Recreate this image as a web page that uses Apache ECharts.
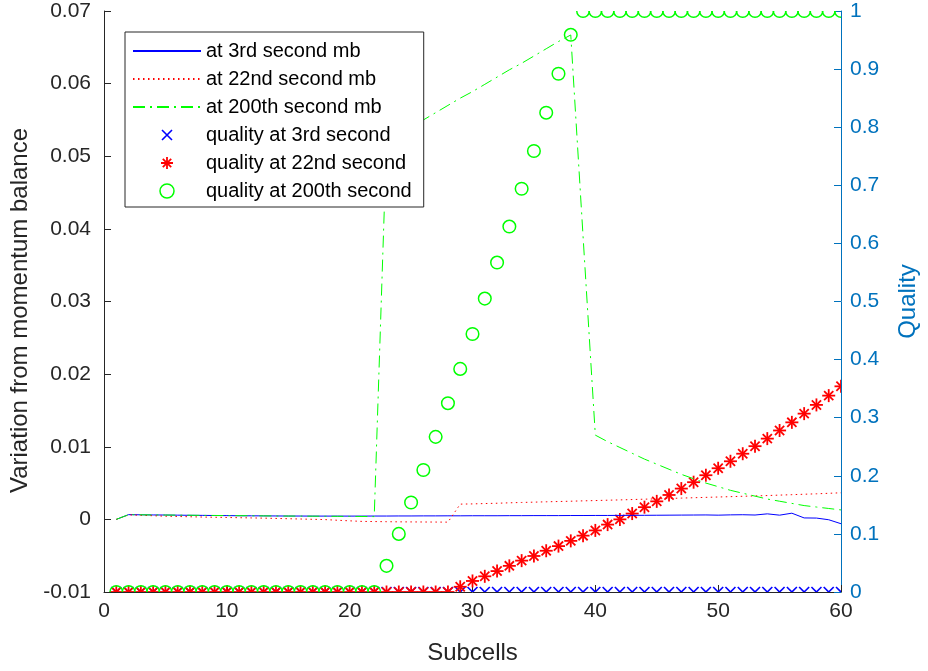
<!DOCTYPE html>
<html>
<head>
<meta charset="utf-8">
<script src="https://cdn.jsdelivr.net/npm/echarts@6/dist/echarts.min.js"></script>
<style>
  html, body { margin: 0; padding: 0; background: #ffffff; }
  #chart { width: 928px; height: 671px; }
</style>
</head>
<body>
<div id="chart"></div>
<script>
// Subcell index along the channel
const subcells = [
  1, 2, 3, 4, 5, 6, 7, 8, 9, 10, 11, 12, 13, 14, 15, 16, 17, 18, 19, 20,
  21, 22, 23, 24, 25, 26, 27, 28, 29, 30, 31, 32, 33, 34, 35, 36, 37, 38, 39, 40,
  41, 42, 43, 44, 45, 46, 47, 48, 49, 50, 51, 52, 53, 54, 55, 56, 57, 58, 59, 60
];

// Variation from the momentum balance (left axis)
const mb3rd = [
  0, 0.00065, 0.00063, 0.00061, 0.0006, 0.00058, 0.00056, 0.00055, 0.00053, 0.00052,
  0.0005, 0.00049, 0.00048, 0.00047, 0.00046, 0.00046, 0.00045, 0.00045, 0.00045, 0.00045,
  0.00045, 0.00046, 0.00046, 0.00047, 0.00047, 0.00048, 0.00048, 0.00049, 0.00049, 0.0005,
  0.0005, 0.0005, 0.00051, 0.00051, 0.00052, 0.00052, 0.00052, 0.00053, 0.00053, 0.00054,
  0.00054, 0.00055, 0.00055, 0.00056, 0.00057, 0.00058, 0.00059, 0.0006, 0.00061, 0.00058,
  0.00062, 0.00064, 0.0006, 0.00076, 0.00058, 0.00085, 0.0002, 0.00018, -0.00005, -0.0006
];
const mb22nd = [
  0, 0.00062, 0.00056, 0.0005, 0.00044, 0.0004, 0.00036, 0.00032, 0.00029, 0.00026,
  0.00023, 0.0002, 0.00017, 0.00013, 0.00009, 0.00005, 0.00001, -0.00003, -0.00012, -0.0002,
  -0.00028, -0.0003, -0.00032, -0.00034, -0.00035, -0.00036, -0.00037, -0.00038, 0.0021, 0.00213,
  0.00218, 0.00222, 0.00228, 0.00233, 0.00237, 0.00242, 0.00246, 0.0025, 0.00255, 0.00259,
  0.00264, 0.00268, 0.00273, 0.00278, 0.00283, 0.00288, 0.00293, 0.00298, 0.00303, 0.00308,
  0.00313, 0.00318, 0.00323, 0.00328, 0.00334, 0.0034, 0.00346, 0.00352, 0.00359, 0.00366
];
const mb200th = [
  0, 0.00065, 0.00063, 0.00061, 0.0006, 0.00058, 0.00057, 0.00055, 0.00054, 0.00052,
  0.00051, 0.0005, 0.00048, 0.00047, 0.00046, 0.00045, 0.00044, 0.00043, 0.00042, 0.00041,
  0.0004, 0.00038, 0.0521, 0.0531, 0.054, 0.055, 0.056, 0.057, 0.058, 0.0589,
  0.0599, 0.0609, 0.0619, 0.0628, 0.0638, 0.0648, 0.0658, 0.0667, 0.039, 0.0116,
  0.0107, 0.0099, 0.0091, 0.0083, 0.0076, 0.0069, 0.0062, 0.0056, 0.005, 0.0045,
  0.004, 0.0036, 0.0032, 0.0028, 0.0025, 0.0022, 0.0019, 0.0017, 0.0015, 0.0013
];

// Quality (right axis)
const quality3rd = [
  0, 0, 0, 0, 0, 0, 0, 0, 0, 0, 0, 0, 0, 0, 0, 0, 0, 0, 0, 0,
  0, 0, 0, 0, 0, 0, 0, 0, 0, 0, 0, 0, 0, 0, 0, 0, 0, 0, 0, 0,
  0, 0, 0, 0, 0, 0, 0, 0, 0, 0, 0, 0, 0, 0, 0, 0, 0, 0, 0, 0
];
const quality22nd = [
  0, 0, 0, 0, 0, 0, 0, 0, 0, 0, 0, 0, 0, 0, 0, 0, 0, 0, 0, 0,
  0, 0, 0, 0, 0, 0, 0, 0, 0.009, 0.019, 0.027, 0.036, 0.045, 0.054, 0.062, 0.071, 0.079, 0.088,
  0.097, 0.106, 0.116, 0.125, 0.135, 0.146, 0.156, 0.167, 0.178, 0.189, 0.201, 0.213,
  0.225, 0.238, 0.251, 0.264, 0.278, 0.292, 0.307, 0.322, 0.338, 0.354
];
const quality200th = [
  0, 0, 0, 0, 0, 0, 0, 0, 0, 0, 0, 0, 0, 0, 0, 0, 0, 0, 0, 0,
  0, 0, 0.045, 0.1, 0.154, 0.21, 0.267, 0.325, 0.384, 0.444,
  0.505, 0.567, 0.629, 0.694, 0.759, 0.825, 0.892, 0.959, 1, 1,
  1, 1, 1, 1, 1, 1, 1, 1, 1, 1, 1, 1, 1, 1, 1, 1, 1, 1, 1, 1
];

const FONT = "'Liberation Sans', Arial, Helvetica, sans-serif";
const AXIS_DARK = '#262626';
const AXIS_BLUE = '#0072BD';

function pairs(values) {
  return subcells.map((x, i) => [x, values[i]]);
}

function lineSeries(name, values, color, dash) {
  return {
    name,
    type: 'line',
    yAxisIndex: 0,
    data: pairs(values),
    symbol: 'none',
    showSymbol: false,
    clip: true,
    lineStyle: { color, width: 1, type: dash },
    itemStyle: { color },
    emphasis: { disabled: true }
  };
}

// Marker glyphs drawn around a screen point
function markerShape(kind, cx, cy, color) {
  if (kind === 'circle') {
    return { type: 'circle', shape: { cx, cy, r: 6.3 },
      style: { fill: 'none', stroke: color, lineWidth: 1.5 } };
  }
  const style = { fill: 'none', stroke: color, lineWidth: kind === 'star' ? 1.8 : 1.6 };
  const seg = (x1, y1, x2, y2) => ({ type: 'line', shape: { x1, y1, x2, y2 }, style });
  if (kind === 'cross') {
    const h = 5;
    return { type: 'group', children: [
      seg(cx - h, cy - h, cx + h, cy + h),
      seg(cx + h, cy - h, cx - h, cy + h)
    ] };
  }
  const a = 6.5, d = 4.6;
  return { type: 'group', children: [
    seg(cx - a, cy, cx + a, cy),
    seg(cx, cy - a, cx, cy + a),
    seg(cx - d, cy - d, cx + d, cy + d),
    seg(cx + d, cy - d, cx - d, cy + d)
  ] };
}

function markerSeries(name, values, kind, color) {
  return {
    name,
    type: 'custom',
    yAxisIndex: 1,
    clip: true,
    data: pairs(values),
    encode: { x: 0, y: 1 },
    itemStyle: { color },
    renderItem(params, api) {
      const p = api.coord([api.value(0), api.value(1)]);
      return markerShape(kind, p[0], p[1], color);
    }
  };
}

const crossIcon = 'path://M-7,-7L-7,-7M7,7L7,7M-5,-5L5,5M5,-5L-5,5';
const starIcon = 'path://M-7,-7L-7,-7M7,7L7,7M-6,0L6,0M0,-6L0,6M-4.2,-4.2L4.2,4.2M4.2,-4.2L-4.2,4.2';

const chart = echarts.init(document.getElementById('chart'), null, { renderer: 'canvas' });

chart.setOption({
  animation: false,
  backgroundColor: '#ffffff',
  textStyle: { fontFamily: FONT },
  grid: { left: 104, right: 87, top: 11, bottom: 79, containLabel: false },
  legend: {
    orient: 'vertical',
    left: 125,
    top: 32,
    itemWidth: 68,
    itemHeight: 14,
    itemGap: 8,
    padding: [9, 12, 6, 7],
    backgroundColor: '#ffffff',
    borderColor: AXIS_DARK,
    borderWidth: 1,
    borderRadius: 0,
    symbolKeepAspect: true,
    selectedMode: false,
    textStyle: { fontSize: 20, color: '#000000', fontFamily: FONT },
    data: [
      { name: 'at 3rd second mb', itemStyle: { opacity: 0 } },
      { name: 'at 22nd second mb', itemStyle: { opacity: 0 } },
      { name: 'at 200th second mb', itemStyle: { opacity: 0 } },
      { name: 'quality at 3rd second', icon: crossIcon,
        itemStyle: { color: 'none', borderColor: '#0000ff', borderWidth: 1.6 } },
      { name: 'quality at 22nd second', icon: starIcon,
        itemStyle: { color: 'none', borderColor: '#ff0000', borderWidth: 1.8 } },
      { name: 'quality at 200th second', icon: 'circle',
        itemStyle: { color: 'none', borderColor: '#00ff00', borderWidth: 1.5 } }
    ]
  },
  xAxis: {
    type: 'value',
    min: 0,
    max: 60,
    interval: 10,
    name: 'Subcells',
    nameLocation: 'middle',
    nameGap: 49,
    nameTextStyle: { fontSize: 24, color: AXIS_DARK, fontFamily: FONT },
    axisLine: { onZero: false, lineStyle: { color: AXIS_DARK, width: 1 } },
    axisTick: { inside: true, length: 7, lineStyle: { color: AXIS_DARK } },
    axisLabel: { fontSize: 21, color: AXIS_DARK, margin: 9, fontFamily: FONT },
    splitLine: { show: false }
  },
  yAxis: [
    {
      type: 'value',
      position: 'left',
      min: -0.01,
      max: 0.07,
      interval: 0.01,
      name: 'Variation from momentum balance',
      nameLocation: 'middle',
      nameGap: 70,
      nameTextStyle: { fontSize: 24, color: AXIS_DARK, fontFamily: FONT, padding: [0, 18, 0, 0] },
      axisLine: { show: true, onZero: false, lineStyle: { color: AXIS_DARK, width: 1 } },
      axisTick: { show: true, inside: true, length: 7, lineStyle: { color: AXIS_DARK } },
      axisLabel: {
        fontSize: 21, color: AXIS_DARK, margin: 13, fontFamily: FONT,
        formatter: v => (Math.abs(v) < 1e-9 ? '0' : v.toFixed(2))
      },
      splitLine: { show: false }
    },
    {
      type: 'value',
      position: 'right',
      min: 0,
      max: 1,
      interval: 0.1,
      name: 'Quality',
      nameLocation: 'middle',
      nameGap: 55,
      nameTextStyle: { fontSize: 24, color: AXIS_BLUE, fontFamily: FONT },
      axisLine: { show: true, onZero: false, lineStyle: { color: AXIS_BLUE, width: 1 } },
      axisTick: { show: true, inside: true, length: 7, lineStyle: { color: AXIS_BLUE } },
      axisLabel: {
        fontSize: 21, color: AXIS_BLUE, margin: 9, fontFamily: FONT,
        formatter: v => (Math.abs(v) < 1e-9 ? '0' : Math.abs(v - 1) < 1e-9 ? '1' : v.toFixed(1))
      },
      splitLine: { show: false }
    }
  ],
  series: [
    lineSeries('at 3rd second mb', mb3rd, '#0000ff', 'solid'),
    lineSeries('at 22nd second mb', mb22nd, '#ff0000', [1.5, 3.5]),
    lineSeries('at 200th second mb', mb200th, '#00ff00', [12, 5, 2, 5]),
    markerSeries('quality at 3rd second', quality3rd, 'cross', '#0000ff'),
    markerSeries('quality at 22nd second', quality22nd, 'star', '#ff0000'),
    markerSeries('quality at 200th second', quality200th, 'circle', '#00ff00')
  ]
});
</script>
</body>
</html>
